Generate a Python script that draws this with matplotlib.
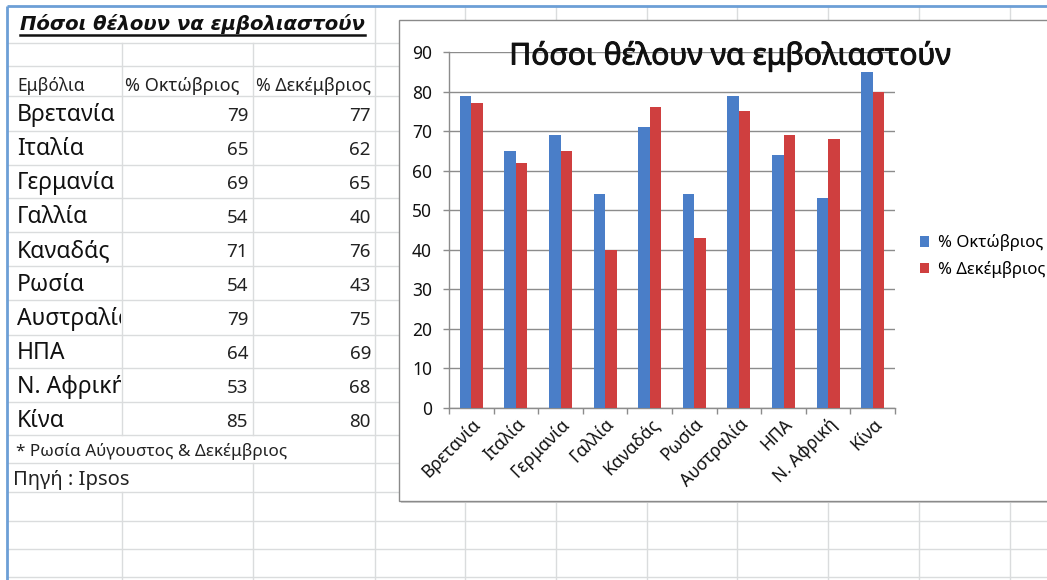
import matplotlib
matplotlib.use("Agg")
import matplotlib.pyplot as plt
import matplotlib.patheffects as pe
from matplotlib.patches import Rectangle
from matplotlib.transforms import Bbox
import numpy as np

# ---- data -------------------------------------------------------------
countries = ["Βρετανία", "Ιταλία", "Γερμανία", "Γαλλία", "Καναδάς",
             "Ρωσία", "Αυστραλία", "ΗΠΑ", "Ν. Αφρική", "Κίνα"]
october = [79, 65, 69, 54, 71, 54, 79, 64, 53, 85]
december = [77, 62, 65, 40, 76, 43, 75, 69, 68, 80]
series_names = ["% Οκτώβριος", "% Δεκέμβριος"]
title = "Πόσοι θέλουν να εμβολιαστούν"
first_header = "Εμβόλια"
footnote = "* Ρωσία Αύγουστος & Δεκέμβριος"
source = "Πηγή : Ipsos"
y_ticks = list(range(0, 91, 10))

# ---- figure / worksheet background -------------------------------------
W, H, DPI = 1047, 580, 100
plt.rcParams['font.family'] = ['Noto Sans', 'DejaVu Sans']

fig = plt.figure(figsize=(W / DPI, H / DPI), dpi=DPI)
fig.patch.set_facecolor('white')
sheet = fig.add_axes([0, 0, 1, 1], zorder=0)
sheet.set_xlim(0, W)
sheet.set_ylim(H, 0)
sheet.axis('off')

GRID = '#dadcdd'
col_edges = [122, 253, 375, 465, 556, 647, 737, 828, 919, 1010]
row_edges = [43, 66, 96, 131, 165, 198, 232, 266, 300, 335, 368, 402,
             435, 463, 492, 521, 549, 577]
TOP, LEFT = 6, 7

# vertical cell borders, interrupted where text spills over the cell
hidden = {122: [(TOP, 43), (435, 492)], 253: [(TOP, 43), (435, 463)]}
for x in col_edges:
    spans = sorted(hidden.get(x, []))
    y = TOP
    for a, b in spans:
        if a > y:
            sheet.plot([x, x], [y, a], color=GRID, lw=1, zorder=1)
        y = b
    sheet.plot([x, x], [y, H], color=GRID, lw=1, zorder=1)
for y in row_edges:
    sheet.plot([LEFT, W], [y, y], color=GRID, lw=1, zorder=1)

# selection frame of the sheet
SEL = '#6d9fd6'
sheet.plot([LEFT, W], [TOP, TOP], color=SEL, lw=2, zorder=2,
           solid_capstyle='butt')
sheet.plot([LEFT, LEFT], [TOP, H], color=SEL, lw=2, zorder=2,
           solid_capstyle='butt')

# ---- table on the sheet ----------------------------------------------
sheet.text(20, 24, title, fontsize=14.1, fontweight='bold', style='italic',
           family=['DejaVu Sans'], ha='left', va='center', color='#111111',
           zorder=3)
sheet.plot([20, 365], [35, 35], color='#111111', lw=1.8, zorder=3)

TXT = '#222222'
sheet.text(17, 86, first_header, fontsize=12.5, ha='left', va='center',
           color=TXT, zorder=3)
sheet.text(125, 86, series_names[0], fontsize=13, ha='left', va='center',
           color=TXT, zorder=3)
sheet.text(256, 86, series_names[1], fontsize=12.8, ha='left', va='center',
           color=TXT, zorder=3)

row_centres = [115, 149, 183, 217, 251, 285, 319, 353, 387, 421]
clip_a = Bbox.from_extents(0, 0, 121, H)
for name, oc, de, yc in zip(countries, october, december, row_centres):
    t = sheet.text(17, yc, name, fontsize=16.5, ha='left', va='center',
                   color='#111111', zorder=3)
    t.set_clip_box(clip_a)
    t.set_clip_on(True)
    sheet.text(248, yc + 1, str(oc), fontsize=13.5, ha='right', va='center',
               color=TXT, zorder=3)
    sheet.text(371, yc + 1, str(de), fontsize=13.5, ha='right', va='center',
               color=TXT, zorder=3)

sheet.text(16, 451, footnote, fontsize=12.3, ha='left', va='center',
           color=TXT, zorder=3)
sheet.text(13, 480, source, fontsize=14.5, ha='left', va='center',
           color=TXT, zorder=3)

# ---- chart object ------------------------------------------------------
sheet.add_patch(Rectangle((401, 22), 700, 481, facecolor='#d0d0d0',
                          edgecolor='none', zorder=4))
sheet.add_patch(Rectangle((399, 20), 700, 481, facecolor='white',
                          edgecolor='#8a8a8a', lw=1, zorder=5))

ax = fig.add_axes([449 / W, 1 - 408 / H, 446 / W, (408 - 52) / H], zorder=6)
ax.set_facecolor('none')

BLUE, RED = '#4a7ec8', '#cf3f3f'
x = np.arange(len(countries))
bw = 0.26
b1 = ax.bar(x - bw / 2, october, bw, color=BLUE, label=series_names[0],
            zorder=3)
b2 = ax.bar(x + bw / 2, december, bw, color=RED, label=series_names[1],
            zorder=3)

ax.set_xlim(-0.5, len(countries) - 0.5)
ax.set_ylim(0, 90)
AXC = '#8c8c8c'
for s in ['top', 'right']:
    ax.spines[s].set_visible(False)
for s in ['left', 'bottom']:
    ax.spines[s].set_color(AXC)
    ax.spines[s].set_linewidth(1)

ax.set_yticks(y_ticks)
ax.yaxis.grid(True, color=AXC, lw=1)
ax.set_axisbelow(True)
ax.tick_params(axis='y', direction='out', length=4.3, width=1, color=AXC,
               labelsize=12.5, pad=8, labelcolor='#111111')

ax.set_xticks(np.arange(-0.5, len(countries), 1))
ax.set_xticklabels([])
ax.set_xticks(x, minor=True)
ax.set_xticklabels(countries, minor=True, rotation=45, ha='right',
                   rotation_mode='anchor', fontsize=12.5, color='#111111')
ax.tick_params(axis='x', which='major', direction='out', length=4.3,
               width=1, color=AXC)
ax.tick_params(axis='x', which='minor', length=0, pad=5)

fig.text(730 / W, 1 - 56 / H, title, fontsize=21.6, ha='center',
         va='center', color='#111111', zorder=7,
         path_effects=[pe.withStroke(linewidth=0.7, foreground='#111111')])

ax.legend(handles=[b1, b2], loc='center left',
          bbox_to_anchor=(920 / W, 1 - 256 / H),
          bbox_transform=fig.transFigure, frameon=False, fontsize=12,
          handlelength=0.55, handleheight=0.55, handletextpad=0.5,
          labelspacing=0.55, borderaxespad=0, borderpad=0)

fig.savefig('out.png', dpi=DPI)
